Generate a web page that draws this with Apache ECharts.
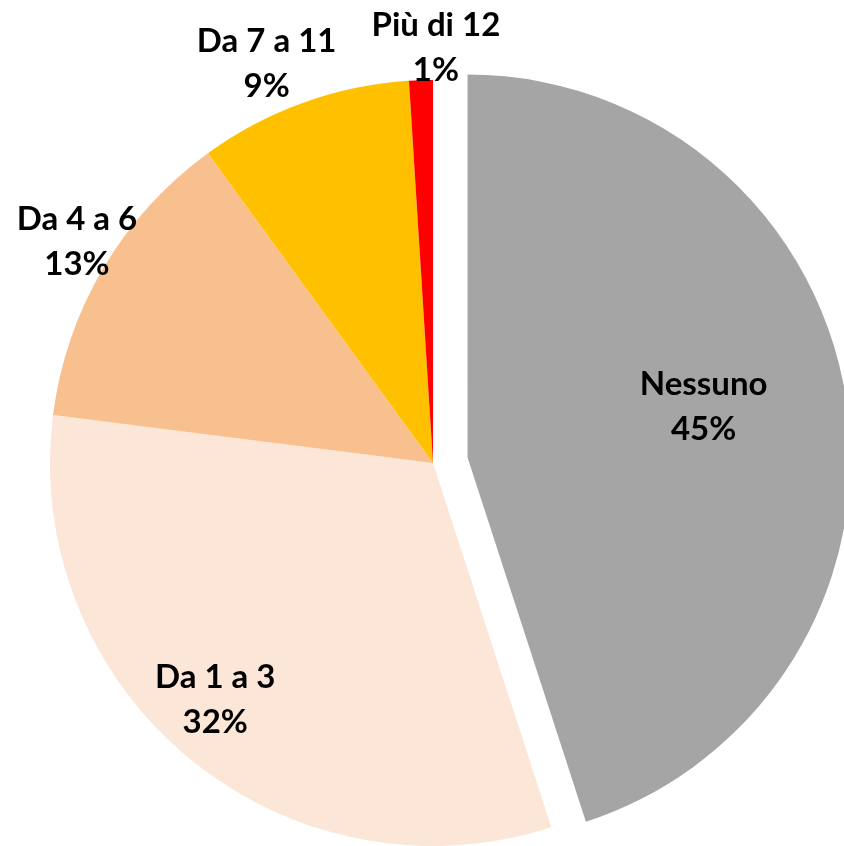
<!DOCTYPE html>
<html>
<head>
<meta charset="utf-8">
<script src="https://cdn.jsdelivr.net/npm/echarts@6/dist/echarts.min.js"></script>
<style>
  html, body { margin: 0; padding: 0; background: #ffffff; }
  #graph { width: 844px; height: 846px; }
</style>
</head>
<body>
<div id="graph"></div>
<script>
// dati del grafico
const categories = ['Nessuno', 'Da 1 a 3', 'Da 4 a 6', 'Da 7 a 11', 'Più di 12'];
const values = [45, 32, 13, 9, 1];
const colors = ['#A5A5A5', '#FCE6D8', '#F8C08F', '#FFC000', '#FF0000'];

// posizione delle etichette: frazione del raggio e spostamento angolare (gradi)
const labelRadius = [0.63, 0.84, 1.095, 1.13, 1.085];
const labelShift = [-3, 3, 1.3, -2.8, 2.2];

const center = [433, 463];
const radius = 383;
const explode = 35; // fetta "Nessuno" staccata

const chartDom = document.getElementById('graph');
const myChart = echarts.init(chartDom);

const total = values.reduce((a, b) => a + b, 0);
const midAngles = [];
let acc = 0;
values.forEach((v) => {
  midAngles.push(((acc + v / 2) / total) * 360);
  acc += v;
});

const rad = (d) => (d * Math.PI) / 180;

// centro spostato per la fetta staccata
const m0 = rad(midAngles[0]);
const center0 = [center[0] + explode * Math.sin(m0), center[1] - explode * Math.cos(m0)];

function makeSeries(c, isExploded) {
  return {
    type: 'pie',
    center: c,
    radius: radius,
    startAngle: 90,
    clockwise: true,
    silent: true,
    percentPrecision: 0,
    label: {
      show: true,
      position: 'inside',
      formatter: '{b}\n{d}%',
      fontFamily: 'Lato',
      fontWeight: 'bold',
      fontSize: 33,
      lineHeight: 45,
      color: '#000000',
      align: 'center',
    },
    labelLine: { show: false },
    emphasis: { disabled: true },
    labelLayout: function (params) {
      const i = params.dataIndex;
      const a = rad(midAngles[i] + labelShift[i]);
      const r = radius * labelRadius[i];
      return {
        x: c[0] + r * Math.sin(a),
        y: c[1] - r * Math.cos(a),
        align: 'center',
        verticalAlign: 'middle',
      };
    },
    data: categories.map((name, i) => {
      const visible = (i === 0) === isExploded;
      return {
        name: name,
        value: values[i],
        itemStyle: { color: visible ? colors[i] : 'rgba(0,0,0,0)' },
        label: { show: visible },
      };
    }),
  };
}

const option = {
  animation: false,
  series: [makeSeries(center, false), makeSeries(center0, true)],
};

myChart.setOption(option);
</script>
</body>
</html>
